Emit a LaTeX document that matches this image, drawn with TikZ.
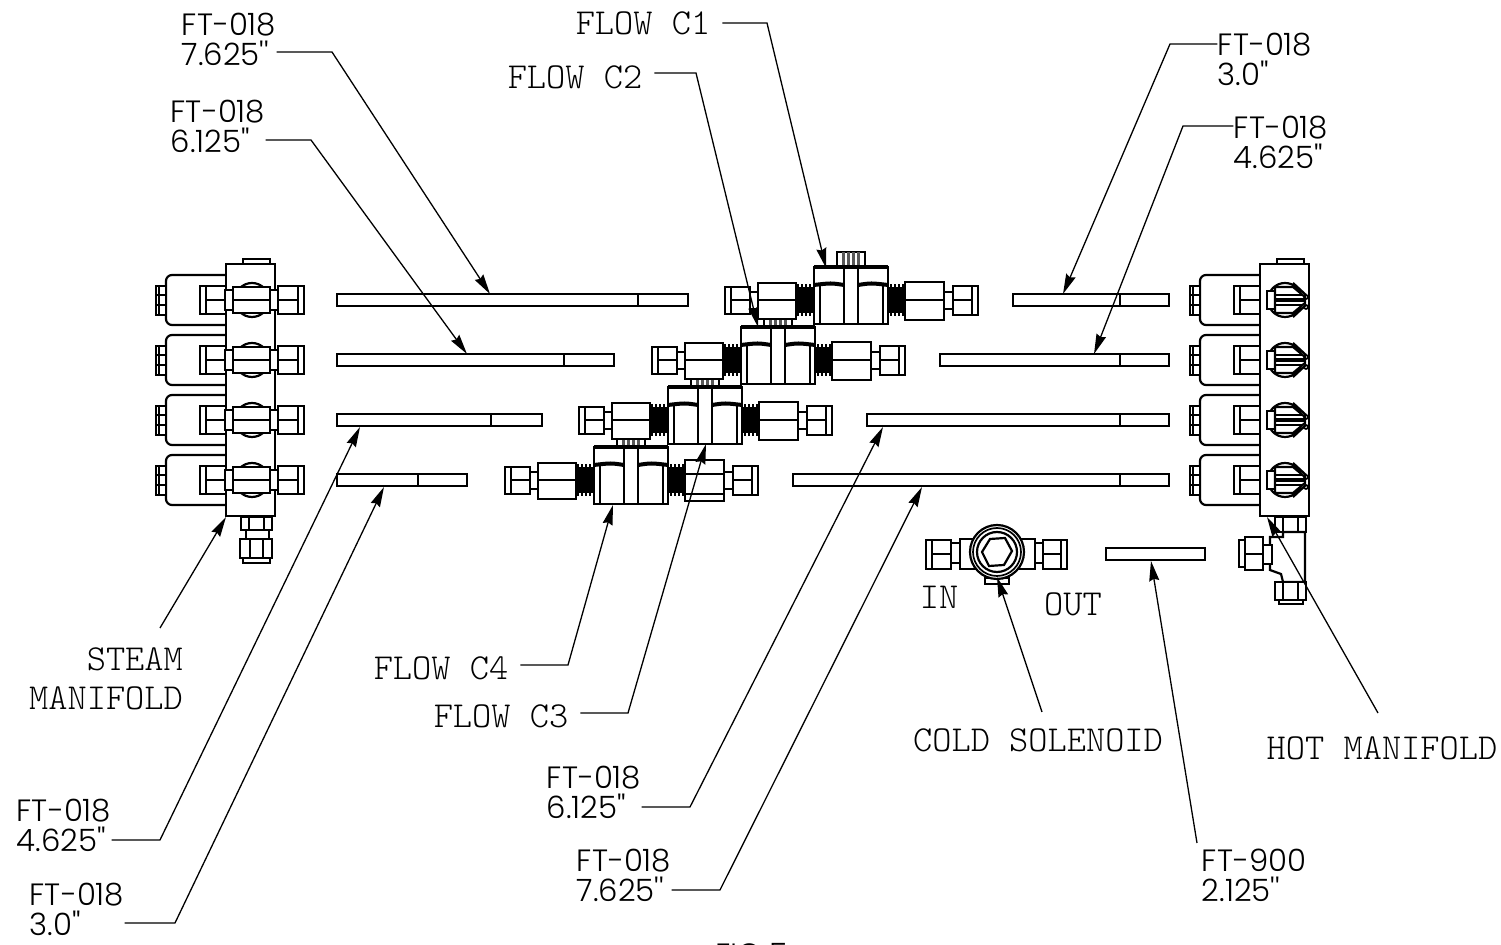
\documentclass[tikz,border=0pt]{standalone}
\usepackage{fontspec}
\usepackage{tikz}
\usetikzlibrary{arrows.meta, calc}
\newfontfamily\ftfont{Poppins Light}
\setmonofont{Latin Modern Mono Light}

\tikzstyle{part} = [draw=black, fill=white, line width=1.1pt]
\tikzstyle{thin part} = [draw=black, line width=0.85pt]
\tikzstyle{tube} = [rectangle, draw=black, line width=1.05pt, minimum height=6pt, inner sep=0pt]
\tikzstyle{arrow} = [line width=0.65pt, -{Stealth[length=10pt, width=5pt, inset=1pt]}]
\tikzstyle{partno} = [inner sep=0pt, align=left, font=\ftfont\fontsize{15.4}{15}\selectfont]
\tikzstyle{callout} = [inner sep=0pt, outer xsep=6pt, align=center, font=\ttfamily\fontsize{18.3}{19.5}\selectfont]

\tikzset{
  coil/.pic={
    \draw [part, rounded corners=3pt] (0,-25) -- (-60,-25) -- (-60,25) -- (0,25);
    \draw [part] (-70,-14) rectangle (-60,15);
    \draw [thin part] (-70,-5) -- (-60,-5) (-70,5) -- (-60,5) (-67,-14) -- (-67,15);
    \draw [part] (-26,-14) rectangle (0,14);
    \draw [thin part] (-20,-14) -- (-20,14) (-20,0) -- (0,0);
  },
  steam front/.pic={
    \draw [part] (0,0) circle (17);
    \draw [part] (-27,-10) rectangle (-19,10);
    \draw [part] (-19,-13) rectangle (18,13);
    \draw [thin part] (-19,0) -- (18,0);
    \draw [part] (18,-10) rectangle (26,10);
    \draw [part] (26,-14) rectangle (52,14);
    \draw [thin part] (46,-14) -- (46,14) (26,0) -- (46,0);
  },
  hot front/.pic={
    \draw [part] (-2,0) circle (17);
    \draw [part] (-20,-9) rectangle (-12,9);
    \draw [part] (-12,-13) -- (6,-13) -- (18,-3) -- (18,3) -- (6,13) -- (-12,13) -- cycle;
    \draw [thin part] (-12,-5) -- (15,-5) (-12,5) -- (15,5);
    \draw [line width=1.6pt] (-12,0) -- (17,0);
    \draw [line width=1.1pt] (6,-17) -- (19,-5) (6,17) -- (19,5);
    \draw [thin part] (19,-3) circle (2) (19,7) circle (2);
  },
  flow valve/.pic={
    % stud on top of the body
    \draw [part] (-14,-48) rectangle (14,-33);
    \foreach \i in {-9,-4,1,6} {
      \fill [black!65] (\i,-48) rectangle ++(3,15);
    }
    % threads
    \fill [black] (-55,-13) rectangle (-38,13);
    \fill [black] (38,-13) rectangle (54,13);
    \foreach \i in {-54,-50,-46,-42,39,43,47,51} {
      \fill [black] (\i,-16) rectangle ++(2,32);
    }
    % nuts and ends
    \draw [part] (-101,-8) rectangle (-93,9);
    \draw [part] (-126,-13) rectangle (-101,14);
    \draw [thin part] (-120,-13) -- (-120,14) (-120,0) -- (-101,0);
    \draw [part] (-93,-17) rectangle (-55,19);
    \draw [thin part] (-93,0) -- (-55,0);
    \draw [part] (93,-8) rectangle (102,9);
    \draw [part] (102,-14) rectangle (127,15);
    \draw [thin part] (121,-14) -- (121,15) (102,0) -- (121,0);
    \draw [part] (54,-18) rectangle (93,20);
    \draw [thin part] (54,0) -- (93,0);
    % body
    \draw [part] (-37,-33) rectangle (37,24);
    \draw [line width=1.8pt] (-37,-33) -- (37,-33);
    \draw [thin part] (-7,-33) -- (-7,24) (7,-33) -- (7,24);
    \draw [thin part] (-31,-14) -- (-31,24) (32,-14) -- (32,24);
    \draw [line width=2pt] (-37,-15) .. controls (-20,-17) .. (-7,-15);
    \draw [line width=2pt] (7,-15) .. controls (20,-17) .. (37,-15);
  }
}

\begin{document}
\begin{tikzpicture}[x=0.5pt, y=-0.5pt]
\path [use as bounding box, clip] (0,0) rectangle (1501,945);

% manifolds
\foreach \y in {300,360,420,480} {
  \pic at (226,\y) {coil};
  \pic at (1260,\y) {coil};
}
\draw [part] (243,259) rectangle (270,264);
\draw [part] (226,264) rectangle (275,516);
\draw [part] (1277,259) rectangle (1304,264);
\draw [part] (1260,264) rectangle (1309,516);
\foreach \y in {300,360,420,480} {
  \pic at (252,\y) {steam front};
  \pic at (1287,\y) {hot front};
}

% steam outlet
\draw [part] (241,517) rectangle (272,530);
\draw [thin part] (249,517) -- (249,530) (264,517) -- (264,530);
\draw [part] (246,530) rectangle (269,539);
\draw [part] (240,539) rectangle (272,558);
\draw [thin part] (250,539) -- (250,558) (263,539) -- (263,558);
\draw [part] (243,558) rectangle (270,563);

% hot outlet
\draw [part] (1275,517) rectangle (1306,532);
\draw [thin part] (1283,517) -- (1283,532) (1298,517) -- (1298,532);
\draw [part] (1283,532) -- (1305,532) -- (1305,582) -- (1283,582) -- (1281,574) -- (1270,570) -- (1270,537) -- (1283,537) -- cycle;
\draw [part] (1239,540) rectangle (1245,567);
\draw [part] (1245,537) rectangle (1263,570);
\draw [thin part] (1245,554) -- (1263,554);
\draw [part] (1263,545) rectangle (1272,564);
\draw [part] (1275,582) rectangle (1306,600);
\draw [thin part] (1283,582) -- (1283,600) (1298,582) -- (1298,600);
\draw [part] (1279,600) rectangle (1303,604);

% tubing
\foreach \name/\xa/\xb/\xc/\y in {tubesa/337/688/638/300, tubesb/337/614/564/360, tubesc/337/542/491/420, tubesd/337/467/418/480,
    tubeha/1013/1169/1120/300, tubehb/940/1169/1120/360, tubehc/867/1169/1120/420, tubehd/793/1169/1120/480} {
  \node (\name) [tube, minimum width={(\xb-\xa)*0.5pt}] at ({(\xa+\xb)/2},\y) {};
  \draw [thin part] (\xc,\y-6) -- (\xc,\y+6);
}
\node (tubeout) [tube, minimum width=49.5pt] at (1155.5,554) {};

% flow valves
\foreach \cx/\y in {631/480, 705/420, 778/360, 851/300} {
  \pic at (\cx,\y) {flow valve};
}
\draw [part] (685,460) rectangle (724,501);
\draw [thin part] (685,474) -- (724,474) (685,494) -- (724,494);

% cold solenoid
\draw [part] (985,578) rectangle (1009,584);
\draw [part] (951,543) rectangle (960,563);
\draw [part] (926,540) rectangle (951,569);
\draw [thin part] (932,540) -- (932,569) (932,554) -- (951,554);
\draw [part] (960,539) rectangle (985,569);
\draw [part] (1035,543) rectangle (1043,563);
\draw [part] (1043,540) rectangle (1067,569);
\draw [thin part] (1061,540) -- (1061,569) (1043,554) -- (1061,554);
\draw [part] (1009,539) rectangle (1035,569);
\draw [part] (997,552) circle (27);
\draw [thin part] (997,552) circle (24);
\draw [part] (997,552) circle (20);
\draw [part] (1012,551) -- (1005,538) -- (990,539) -- (982,552) -- (989,566) -- (1004,565) -- cycle;

% labels
\node (steeta) [partno] at (229,39) {FT-018\\7.625''};
\node (steetb) [partno] at (218,126) {FT-018\\6.125''};
\node (steetc) [partno] at (64,825) {FT-018\\4.625''};
\node (steetd) [partno] at (77,909) {FT-018\\3.0''};
\node (hoteta) [partno] at (1265,59) {FT-018\\3.0''};
\node (hotetb) [partno] at (1281,142) {FT-018\\4.625''};
\node (hotetc) [partno] at (594,792) {FT-018\\6.125''};
\node (hotetd) [partno] at (624,875) {FT-018\\7.625''};
\node (outtube) [partno] at (1254,875) {FT-900\\2.125''};
\node (flowa) [callout] at (643,23) {FLOW C1};
\node (flowb) [callout] at (575,77) {FLOW C2};
\node (flowc) [callout] at (501,716) {FLOW C3};
\node (flowd) [callout] at (441,668) {FLOW C4};
\node (steam) [callout, align=right] at (106,679) {STEAM\\MANIFOLD};
\node (cold) [callout] at (1038,740) {COLD SOLENOID};
\node (hot) [callout] at (1382,748) {HOT MANIFOLD};
\node (in) [callout] at (939,597) {IN};
\node (out) [callout] at (1073,604) {OUT};
\node (fig) [partno] at (752,955) {FIG 5};

% elbows
\coordinate (elsa) at (332,52);
\coordinate (elsb) at (311,140);
\coordinate (elsc) at (160,840);
\coordinate (elsd) at (175,923);
\coordinate (elha) at (1170,44);
\coordinate (elhb) at (1183,126);
\coordinate (elhc) at (690,807);
\coordinate (elhd) at (720,890);
\coordinate (elfa) at (767,23);
\coordinate (elfb) at (696,73);
\coordinate (elfc) at (628,713);
\coordinate (elfd) at (568,665);
\coordinate (tailsteam) at (160,628);
\coordinate (tailcold) at (1042,712);
\coordinate (tailhot) at (1378,713);
\coordinate (tailout) at (1197,843);

% arrow tips
\coordinate (tipsa) at (490,294);
\coordinate (tipsb) at (467,354);
\coordinate (tipsc) at (360,427);
\coordinate (tipsd) at (384,487);
\coordinate (tipha) at (1063,294);
\coordinate (tiphb) at (1094,354);
\coordinate (tiphc) at (883,427);
\coordinate (tiphd) at (922,487);
\coordinate (tipfa) at (826,268);
\coordinate (tipfb) at (758,327);
\coordinate (tipfc) at (706,444);
\coordinate (tipfd) at (613,505);
\coordinate (tipsteam) at (226,517);
\coordinate (tipcold) at (997,577);
\coordinate (tiphot) at (1267,517);
\coordinate (tipout) at (1151,561);

\draw [arrow] (steeta.east |- elsa) -- (elsa) -- (tipsa);
\draw [arrow] (steetb.east |- elsb) -- (elsb) -- (tipsb);
\draw [arrow] (steetc.east |- elsc) -- (elsc) -- (tipsc);
\draw [arrow] (steetd.east |- elsd) -- (elsd) -- (tipsd);
\draw [arrow] (hoteta.west |- elha) -- (elha) -- (tipha);
\draw [arrow] (hotetb.west |- elhb) -- (elhb) -- (tiphb);
\draw [arrow] (hotetc.east |- elhc) -- (elhc) -- (tiphc);
\draw [arrow] (hotetd.east |- elhd) -- (elhd) -- (tiphd);
\draw [arrow] (flowa.east |- elfa) -- (elfa) -- (tipfa);
\draw [arrow] (flowb.east |- elfb) -- (elfb) -- (tipfb);
\draw [arrow] (flowc.east |- elfc) -- (elfc) -- (tipfc);
\draw [arrow] (flowd.east |- elfd) -- (elfd) -- (tipfd);
\draw [arrow] (tailsteam) -- (tipsteam);
\draw [arrow] (tailcold) -- (tipcold);
\draw [arrow] (tailhot) -- (tiphot);
\draw [arrow] (tailout) -- (tipout);

\end{tikzpicture}
\end{document}
